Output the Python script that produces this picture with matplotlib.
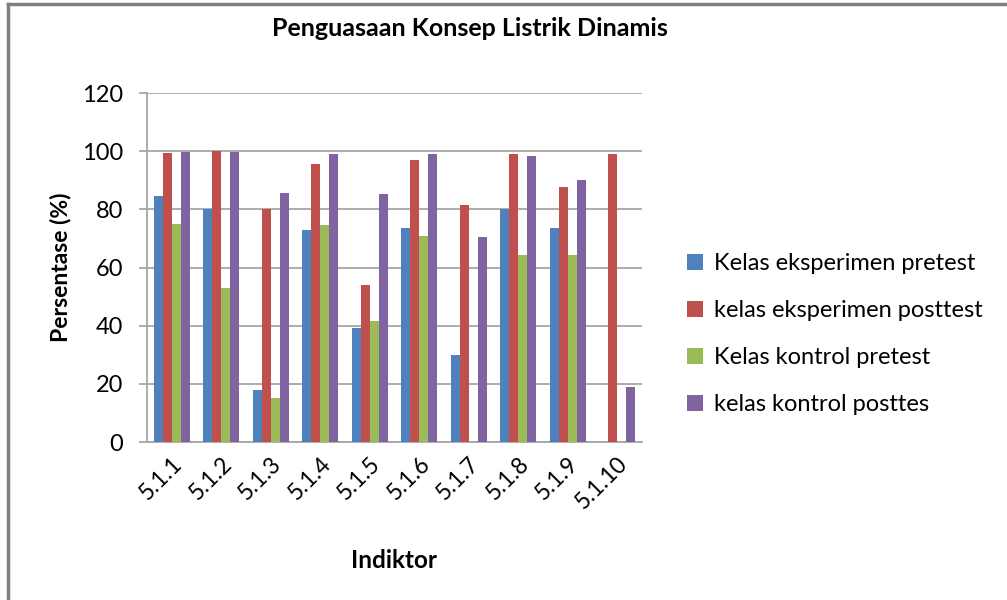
import matplotlib
matplotlib.use("Agg")
import matplotlib.pyplot as plt
import numpy as np
from matplotlib.lines import Line2D

plt.rcParams['font.family'] = ['Lato', 'DejaVu Sans']

categories = ["5.1.1", "5.1.2", "5.1.3", "5.1.4", "5.1.5", "5.1.6", "5.1.7", "5.1.8", "5.1.9", "5.1.10"]
eks_pre = [84.7, 80.0, 17.9, 72.8, 39.1, 73.7, 29.8, 80.0, 73.7, 0]
eks_post = [99.3, 100.0, 80.0, 95.7, 54.1, 97.1, 81.6, 98.9, 87.8, 98.9]
kon_pre = [74.9, 52.9, 15.3, 74.5, 41.7, 71.0, 0, 64.3, 64.3, 0]
kon_post = [99.8, 99.8, 85.6, 98.9, 85.2, 98.9, 70.6, 98.5, 90.0, 18.9]
series_names = ["Kelas eksperimen pretest", "kelas eksperimen posttest",
                "Kelas kontrol pretest", "kelas kontrol posttes"]
colors = ["#4F81BD", "#C0504D", "#9BBB59", "#8064A2"]
yticks = [0, 20, 40, 60, 80, 100, 120]

fig = plt.figure(figsize=(10.07, 6.0), dpi=100)
ax = fig.add_axes([0.146, 0.2633, 0.4915, 0.5817])

x = np.arange(len(categories))
w = 0.18
series = [eks_pre, eks_post, kon_pre, kon_post]
for i, (vals, c, name) in enumerate(zip(series, colors, series_names)):
    ax.bar(x + (i - 1.5) * w, vals, width=w, color=c, label=name, zorder=3)

ax.set_xlim(-0.5, len(categories) - 0.5)
ax.set_ylim(0, 120)
ax.set_yticks(yticks)
ax.set_yticklabels([str(v) for v in yticks], fontsize=17)
ax.yaxis.grid(True, color="#A6A6A6", linewidth=1.3, zorder=0)
ax.set_axisbelow(True)
for s in ["top", "right"]:
    ax.spines[s].set_visible(False)
for s in ["left", "bottom"]:
    ax.spines[s].set_color("#A6A6A6")
    ax.spines[s].set_linewidth(1.3)
ax.tick_params(axis="y", length=6, color="#A6A6A6", width=1.3, pad=11)
ax.tick_params(axis="x", length=0, pad=8)
ax.set_xticks(x)
ax.set_xticklabels(categories, rotation=45, ha="right", rotation_mode="anchor", fontsize=16.5)

ax.set_ylabel("Persentase (%)", fontsize=16.5, fontweight="bold", labelpad=8)
ax.set_xlabel("Indiktor", fontsize=17.5, fontweight="bold", labelpad=26)

fig.text(0.467, 0.952, "Penguasaan Konsep Listrik Dinamis", ha="center", va="center",
         fontsize=18, fontweight="bold")

handles, labels = ax.get_legend_handles_labels()
leg = fig.legend(handles, labels, loc="center left", bbox_to_anchor=(0.661, 0.443),
                 frameon=False, fontsize=17, handlelength=0.7, handleheight=0.7,
                 handletextpad=0.45, labelspacing=1.1)

# figure border (top and left)
fig.add_artist(Line2D([0.008, 0.008], [0, 0.993], transform=fig.transFigure, color="#808080", linewidth=2.5))
fig.add_artist(Line2D([0.008, 1.0], [0.993, 0.993], transform=fig.transFigure, color="#808080", linewidth=2.5))

fig.savefig("out.png", dpi=100, facecolor="white")
